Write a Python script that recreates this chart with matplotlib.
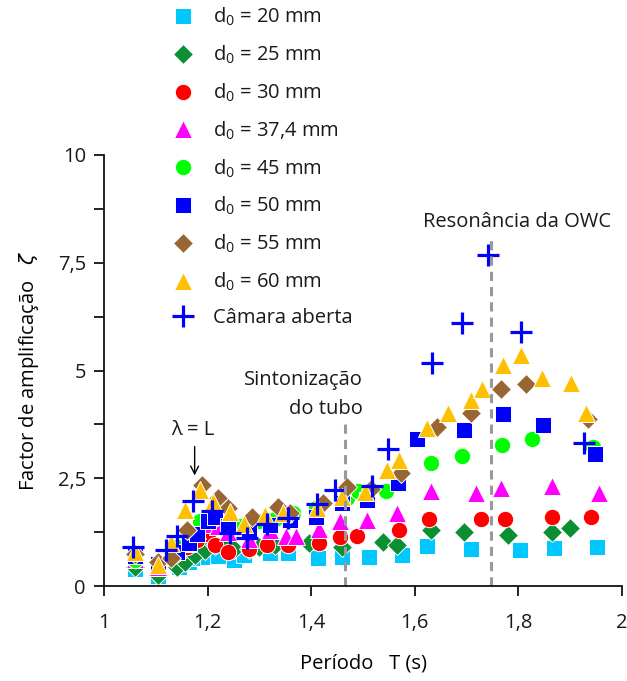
import matplotlib
matplotlib.use("Agg")
import matplotlib.pyplot as plt

plt.rcParams['font.family'] = ['Open Sans', 'DejaVu Sans']
plt.rcParams['mathtext.default'] = 'regular'
plt.rcParams['text.color'] = '#1a1a1a'

# ---------------- data ----------------
T20 = [1.06, 1.105, 1.145, 1.165, 1.18, 1.20, 1.22, 1.25, 1.27, 1.32, 1.355, 1.414, 1.459, 1.511, 1.576, 1.624, 1.709, 1.803, 1.869, 1.952]
Z20 = [0.40, 0.23, 0.45, 0.55, 0.65, 0.68, 0.70, 0.60, 0.72, 0.77, 0.77, 0.65, 0.67, 0.67, 0.72, 0.93, 0.86, 0.84, 0.88, 0.90]

T25 = [1.06, 1.105, 1.14, 1.156, 1.175, 1.195, 1.214, 1.233, 1.25, 1.28, 1.30, 1.33, 1.395, 1.459, 1.538, 1.565, 1.632, 1.695, 1.78, 1.865, 1.90]
Z25 = [0.44, 0.25, 0.45, 0.56, 0.72, 0.84, 0.95, 0.95, 0.85, 0.85, 0.90, 0.95, 1.0, 0.90, 1.02, 0.95, 1.30, 1.25, 1.18, 1.25, 1.35]

T30 = [1.06, 1.105, 1.135, 1.16, 1.18, 1.20, 1.215, 1.24, 1.28, 1.315, 1.355, 1.416, 1.456, 1.489, 1.57, 1.628, 1.728, 1.775, 1.865, 1.94]
Z30 = [0.60, 0.45, 0.72, 0.90, 1.07, 1.20, 0.95, 0.80, 0.85, 0.95, 0.95, 1.0, 1.14, 1.16, 1.30, 1.55, 1.55, 1.55, 1.60, 1.60]

T37 = [1.06, 1.105, 1.14, 1.16, 1.18, 1.20, 1.22, 1.24, 1.28, 1.32, 1.352, 1.37, 1.416, 1.456, 1.507, 1.565, 1.632, 1.719, 1.767, 1.865, 1.956]
Z37 = [0.62, 0.45, 0.85, 1.0, 1.3, 1.45, 1.4, 1.25, 1.1, 1.3, 1.15, 1.15, 1.32, 1.5, 1.53, 1.7, 2.2, 2.15, 2.27, 2.32, 2.15]

T45 = [1.06, 1.105, 1.14, 1.16, 1.185, 1.21, 1.24, 1.26, 1.30, 1.33, 1.364, 1.41, 1.47, 1.49, 1.545, 1.632, 1.692, 1.769, 1.827, 1.944]
Z45 = [0.6, 0.5, 0.9, 1.2, 1.5, 1.55, 1.45, 1.4, 1.5, 1.55, 1.7, 1.8, 2.05, 2.2, 2.2, 2.85, 3.02, 3.27, 3.41, 3.23]

T50 = [1.06, 1.105, 1.14, 1.165, 1.18, 1.20, 1.215, 1.24, 1.28, 1.32, 1.36, 1.41, 1.459, 1.507, 1.567, 1.605, 1.695, 1.771, 1.848, 1.948]
Z50 = [0.7, 0.5, 0.8, 1.0, 1.2, 1.5, 1.6, 1.4, 1.28, 1.42, 1.53, 1.6, 1.93, 2.0, 2.39, 3.41, 3.62, 3.99, 3.74, 3.06]

T55 = [1.06, 1.105, 1.13, 1.16, 1.19, 1.22, 1.24, 1.285, 1.335, 1.36, 1.422, 1.47, 1.516, 1.574, 1.642, 1.709, 1.767, 1.815, 1.934]
Z55 = [0.75, 0.55, 0.65, 1.3, 2.34, 2.04, 1.8, 1.6, 1.84, 1.7, 1.93, 2.3, 2.25, 2.62, 3.69, 4.01, 4.57, 4.69, 3.88]

T60 = [1.06, 1.104, 1.13, 1.156, 1.185, 1.21, 1.243, 1.27, 1.31, 1.345, 1.412, 1.46, 1.503, 1.547, 1.57, 1.624, 1.665, 1.709, 1.73, 1.771, 1.805, 1.846, 1.902, 1.931]
Z60 = [0.79, 0.49, 1.0, 1.76, 2.23, 1.95, 1.72, 1.45, 1.65, 1.69, 1.81, 2.07, 2.18, 2.69, 2.92, 3.67, 4.01, 4.32, 4.57, 5.13, 5.37, 4.82, 4.71, 4.01]

TP = [1.056, 1.12, 1.14, 1.171, 1.208, 1.243, 1.277, 1.314, 1.355, 1.412, 1.445, 1.518, 1.549, 1.634, 1.692, 1.742, 1.805, 1.927]
ZP = [0.9, 0.84, 1.16, 1.98, 1.74, 1.24, 1.12, 1.43, 1.58, 1.9, 2.23, 2.33, 3.18, 5.17, 6.1, 7.68, 5.89, 3.32]

labels = [r'd$_0$ = 20 mm', r'd$_0$ = 25 mm', r'd$_0$ = 30 mm', r'd$_0$ = 37,4 mm',
          r'd$_0$ = 45 mm', r'd$_0$ = 50 mm', r'd$_0$ = 55 mm', r'd$_0$ = 60 mm',
          'Câmara aberta']

xticks = [1.0, 1.2, 1.4, 1.6, 1.8, 2.0]
xticklabels = ['1', '1,2', '1,4', '1,6', '1,8', '2']
yticks = [0, 1.25, 2.5, 3.75, 5, 6.25, 7.5, 8.75, 10]
yticklabels = ['0', '', '2,5', '', '5', '', '7,5', '', '10']

T_tube = 1.465
T_owc = 1.747

# ---------------- style ----------------
FS = 14.5
series = [
    (T20, Z20, 's', '#00C8FF', 11.5),
    (T25, Z25, 'D', '#0A8F33', 10.0),
    (T30, Z30, 'o', '#FF0000', 11.8),
    (T37, Z37, '^', '#FF00FF', 13.5),
    (T45, Z45, 'o', '#00FF00', 11.8),
    (T50, Z50, 's', '#0000FF', 11.5),
    (T55, Z55, 'D', '#996633', 10.0),
    (T60, Z60, '^', '#FFC000', 13.5),
]

fig = plt.figure(figsize=(6.27, 6.81), dpi=100)
ax = fig.add_axes([104/627, 1-586/681, (622-104)/627, (586-155)/681])

handles = []
for (t, z, m, c, ms) in series:
    h, = ax.plot(t, z, linestyle='none', marker=m, color=c, markersize=ms,
                 markeredgecolor='white', markeredgewidth=0.7, clip_on=False)
    handles.append(h)
hp, = ax.plot(TP, ZP, linestyle='none', marker='+', color='#0000FF',
              markersize=16, markeredgewidth=2.3, clip_on=False)
handles.append(hp)

ax.set_xlim(1.0, 2.0)
ax.set_ylim(0, 10)
ax.spines['top'].set_visible(False)
ax.spines['right'].set_visible(False)
ax.spines['left'].set_linewidth(1.3)
ax.spines['bottom'].set_linewidth(1.3)
ax.spines['left'].set_color('#111111')
ax.spines['bottom'].set_color('#111111')
ax.set_xticks(xticks)
ax.set_xticklabels(xticklabels)
ax.set_yticks(yticks)
ax.set_yticklabels(yticklabels)
ax.tick_params(axis='both', direction='out', width=1.3, labelsize=FS,
               color='#111111', labelcolor='#1a1a1a')
ax.tick_params(axis='x', pad=12, length=7.5)
ax.tick_params(axis='y', pad=6, length=7)

ax.set_xlabel('Período   T (s)', fontsize=FS, labelpad=15)
ax.set_ylabel(r'Factor de amplificação   $\mathit{\zeta}$', fontsize=FS, labelpad=12)

# dashed reference lines
ax.plot([T_tube, T_tube], [0, 3.78], linestyle=(0, (3, 2)), color='#999999', linewidth=2.2)
ax.plot([T_owc, T_owc], [0, 8.15], linestyle=(0, (3, 2)), color='#999999', linewidth=2.2)

ax.text(1.797, 8.45, 'Resonância da OWC', ha='center', va='center', fontsize=FS)
ax.text(1.500, 4.78, 'Sintonização', ha='right', va='center', fontsize=FS)
ax.text(1.500, 4.11, 'do tubo', ha='right', va='center', fontsize=FS)
ax.text(1.171, 3.62, 'λ = L', ha='center', va='center', fontsize=FS)
ax.annotate('', xy=(1.175, 2.5), xytext=(1.175, 3.3),
            arrowprops=dict(arrowstyle='->', color='black', lw=1.0, mutation_scale=14))

fig.legend(handles, labels, loc='upper left', bbox_to_anchor=(170/627, 1-6/681),
           frameon=False, fontsize=FS, labelspacing=0.77, handlelength=1.3,
           handletextpad=0.85, borderpad=0, borderaxespad=0, numpoints=1)

fig.savefig('out.png', dpi=100)
